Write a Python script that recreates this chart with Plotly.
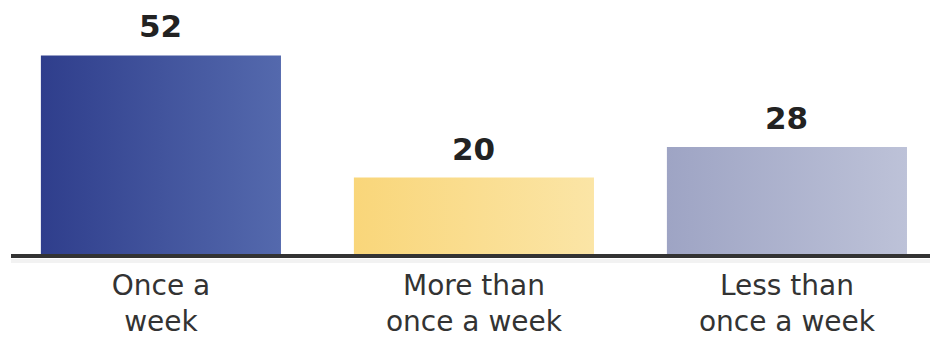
import plotly.graph_objects as go

categories = ["Once a<br>week", "More than<br>once a week", "Less than<br>once a week"]
values = [52, 20, 28]
color_left = ["#2f3e8c", "#f9d67a", "#9ea4c4"]
color_right = ["#5469ad", "#fbe5a6", "#bdc2d8"]

bar_width = 0.767
fig = go.Figure()
for i, (v, cl, cr) in enumerate(zip(values, color_left, color_right)):
    x0, x1 = i - bar_width / 2, i + bar_width / 2
    fig.add_trace(go.Scatter(
        x=[x0, x1, x1, x0, x0], y=[0, 0, v, v, 0],
        mode="lines", line=dict(width=0), fill="toself",
        fillgradient=dict(type="horizontal", colorscale=[[0, cl], [1, cr]]),
        hoverinfo="skip", showlegend=False,
    ))
    fig.add_annotation(x=i, y=v, text=f"<b>{v}</b>", showarrow=False,
                       yanchor="bottom", yshift=9,
                       font=dict(family="DejaVu Sans", size=31, color="#222222"))

fig.add_shape(type="line", xref="paper", yref="paper", x0=0, x1=1, y0=-0.028, y1=-0.028,
              line=dict(color="rgba(0,0,0,0.05)", width=4), layer="below")

fig.update_layout(
    width=930, height=337,
    margin=dict(l=11, r=0, t=0, b=83, autoexpand=False),
    paper_bgcolor="white", plot_bgcolor="white",
    showlegend=False,
    xaxis=dict(range=[-0.479, 2.457], tickvals=[0, 1, 2], ticktext=categories,
               showgrid=False, zeroline=False, showline=True, linewidth=4,
               linecolor="#333333", ticks="", fixedrange=True, ticklabelstandoff=3,
               automargin=False,
               tickfont=dict(family="DejaVu Sans", size=28, color="#333333")),
    yaxis=dict(range=[0, 66.5], visible=False, fixedrange=True, automargin=False),
)
fig.write_html("out.html")
